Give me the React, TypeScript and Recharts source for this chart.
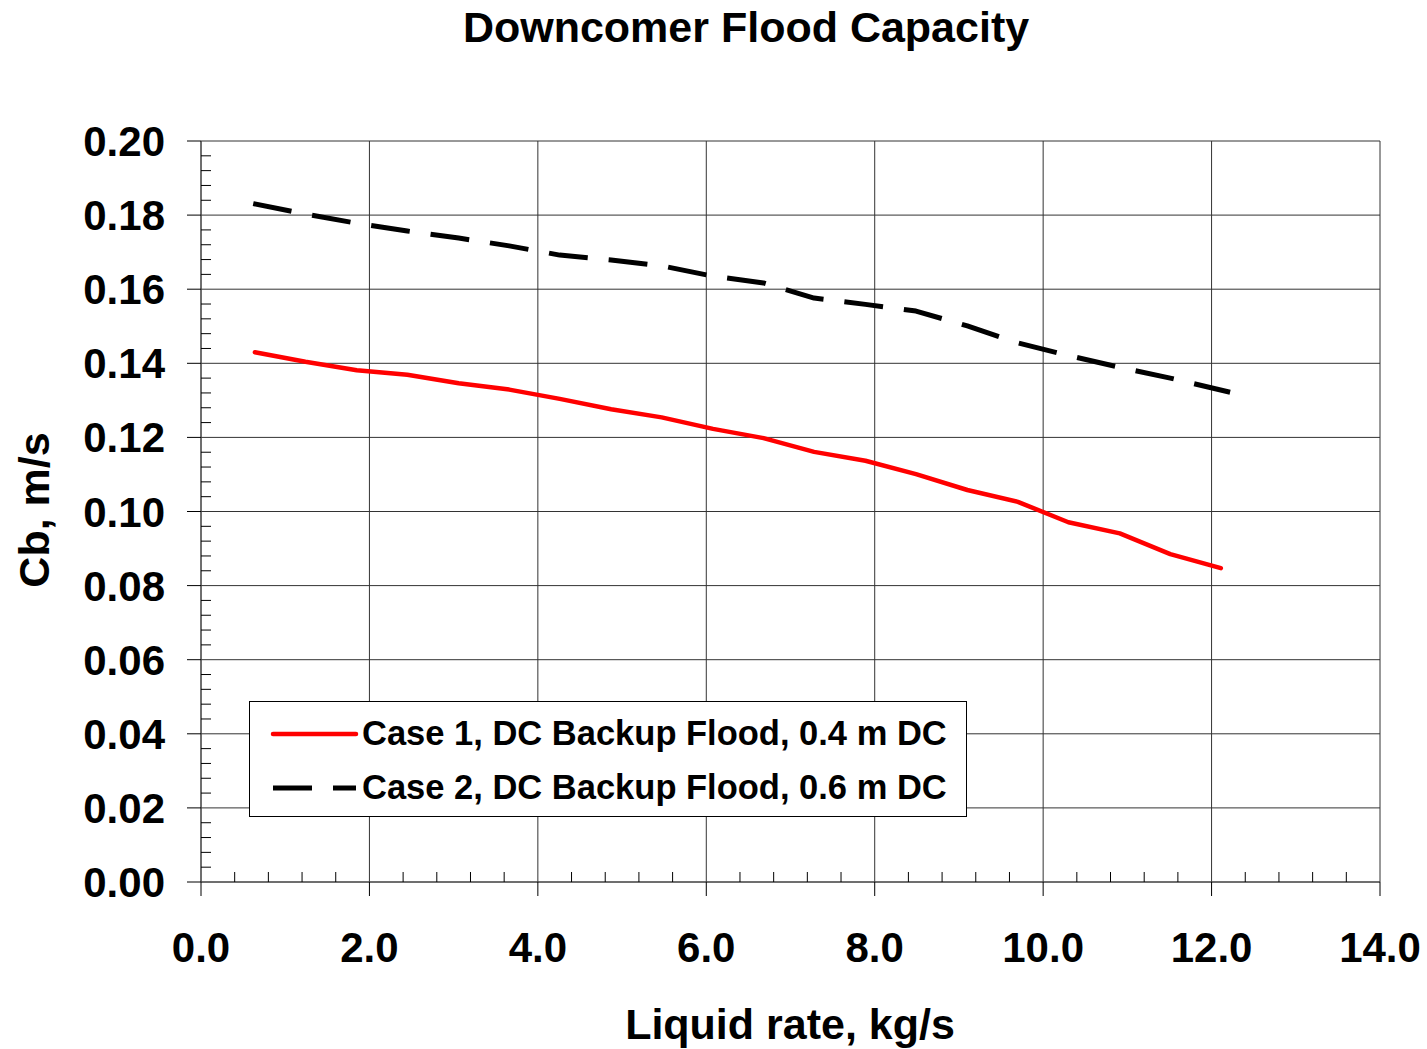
import React from 'react';
import { LineChart, Line, XAxis, YAxis, CartesianGrid, Legend } from 'recharts';

// ---- data ----
const case1X = [0.64, 1.24, 1.85, 2.45, 3.06, 3.66, 4.26, 4.87, 5.47, 6.08, 6.68, 7.28, 7.89, 8.49, 9.1, 9.7, 10.3, 10.91, 11.51, 12.11];
const case1Y = [0.143, 0.1404, 0.1381, 0.1369, 0.1346, 0.1329, 0.1304, 0.1276, 0.1254, 0.1223, 0.1198, 0.1161, 0.1137, 0.1101, 0.1058, 0.1026, 0.0971, 0.0941, 0.0885, 0.0847];
const case2X = [0.62, 1.24, 1.85, 2.45, 3.06, 3.66, 4.26, 4.87, 5.47, 6.08, 6.68, 7.28, 7.89, 8.49, 9.1, 9.7, 10.3, 10.91, 11.51, 12.22];
const case2Y = [0.1831, 0.1803, 0.1778, 0.1757, 0.1738, 0.1717, 0.1692, 0.1679, 0.1663, 0.1635, 0.1617, 0.1576, 0.1559, 0.1541, 0.1501, 0.1455, 0.1421, 0.1389, 0.136, 0.1322];

const seriesNames = ['Case 1, DC Backup Flood, 0.4 m DC', 'Case 2, DC Backup Flood, 0.6 m DC'];

const xMajorTicks = [0, 2, 4, 6, 8, 10, 12, 14];
const yMajorTicks = [0, 0.02, 0.04, 0.06, 0.08, 0.1, 0.12, 0.14, 0.16, 0.18, 0.2];
const xMinorStep = 0.4;
const yMinorStep = 0.004;

const title = 'Downcomer Flood Capacity';
const xLabel = 'Liquid rate, kg/s';
const yLabel = 'Cb, m/s';

// ---- derived ----
const case1Data = case1X.map((x, i) => ({ x, y: case1Y[i] }));
const case2Data = case2X.map((x, i) => ({ x, y: case2Y[i] }));

const xAllTicks: number[] = [];
for (let i = 0; i <= Math.round(14 / xMinorStep); i++) xAllTicks.push(Math.round(i * xMinorStep * 1000) / 1000);
const yAllTicks: number[] = [];
for (let i = 0; i <= Math.round(0.2 / yMinorStep); i++) yAllTicks.push(Math.round(i * yMinorStep * 100000) / 100000);

const isMajor = (v: number, majors: number[]) => majors.some((m) => Math.abs(m - v) < 1e-9);

const FONT = '"Liberation Sans", Arial, sans-serif';
const AXIS_COLOR = '#444';

const XTick = (props: any) => {
  const { x, y, payload } = props;
  const v = payload.value as number;
  if (isMajor(v, xMajorTicks)) {
    return (
      <g>
        <line x1={x} x2={x} y1={y} y2={y + 14} stroke="#000" strokeWidth={1} />
        <text x={x} y={y + 80} textAnchor="middle" fontSize={42} fontWeight={700} fontFamily={FONT} fill="#000">
          {v.toFixed(1)}
        </text>
      </g>
    );
  }
  return <line x1={x} x2={x} y1={y} y2={y - 10} stroke="#000" strokeWidth={1} />;
};

const YTick = (props: any) => {
  const { x, y, payload } = props;
  const v = payload.value as number;
  if (isMajor(v, yMajorTicks)) {
    return (
      <g>
        <line x1={x - 14} x2={x} y1={y} y2={y} stroke="#000" strokeWidth={1} />
        <text x={x - 36} y={y + 15} textAnchor="end" fontSize={42} fontWeight={700} fontFamily={FONT} fill="#000">
          {v.toFixed(2)}
        </text>
      </g>
    );
  }
  return <line x1={x} x2={x + 10} y1={y} y2={y} stroke="#000" strokeWidth={1} />;
};

const legendStyles = [
  { color: '#ff0000', dash: undefined as string | undefined, width: 4.5 },
  { color: '#000000', dash: '39 21', width: 5 },
];

const renderLegend = () => (
  <div
    style={{
      width: 718,
      height: 116,
      boxSizing: 'border-box',
      border: '1px solid #000',
      background: '#fff',
      position: 'relative',
      fontFamily: FONT,
    }}
  >
    {seriesNames.map((name, i) => (
      <div
        key={name}
        style={{
          position: 'absolute',
          left: 0,
          top: i === 0 ? 12 : 66,
          height: 38,
          display: 'flex',
          alignItems: 'center',
          whiteSpace: 'nowrap',
        }}
      >
        <svg width={112} height={38} style={{ display: 'block' }}>
          <line
            x1={23}
            x2={106}
            y1={20}
            y2={20}
            stroke={legendStyles[i].color}
            strokeWidth={legendStyles[i].width}
            strokeDasharray={legendStyles[i].dash}
            strokeLinecap={legendStyles[i].dash ? 'butt' : 'round'}
          />
        </svg>
        <span style={{ fontSize: 34.5, fontWeight: 700, color: '#000', lineHeight: '38px' }}>{name}</span>
      </div>
    ))}
  </div>
);

export default function App() {
  return (
    <div style={{ position: 'absolute', left: 0, top: 0, width: 1427, height: 1049, background: '#fff', fontFamily: FONT }}>
      <div
        style={{
          position: 'absolute',
          left: 446,
          top: 5,
          width: 600,
          textAlign: 'center',
          fontSize: 43,
          lineHeight: '44px',
          fontWeight: 700,
          color: '#000',
          zIndex: 2,
        }}
      >
        {title}
      </div>
      <div
        style={{
          position: 'absolute',
          left: 490,
          top: 1002,
          width: 600,
          textAlign: 'center',
          fontSize: 43,
          lineHeight: '44px',
          fontWeight: 700,
          color: '#000',
          zIndex: 2,
        }}
      >
        {xLabel}
      </div>
      <div
        style={{
          position: 'absolute',
          left: 34 - 150,
          top: 510 - 22,
          width: 300,
          height: 44,
          textAlign: 'center',
          fontSize: 43,
          lineHeight: '44px',
          fontWeight: 700,
          color: '#000',
          transform: 'rotate(-90deg)',
          zIndex: 2,
        }}
      >
        {yLabel}
      </div>
      <LineChart width={1427} height={1049} margin={{ top: 141, right: 47, bottom: 0, left: 0 }}>
        <CartesianGrid
          stroke="#333"
          strokeWidth={1}
          horizontalValues={yMajorTicks}
          verticalValues={xMajorTicks}
        />
        <XAxis
          type="number"
          dataKey="x"
          domain={[0, 14]}
          ticks={xAllTicks}
          interval={0}
          height={167}
          tickSize={0}
          tickMargin={0}
          tickLine={false}
          tick={<XTick />}
          axisLine={{ stroke: AXIS_COLOR, strokeWidth: 1 }}
          allowDataOverflow
        />
        <YAxis
          type="number"
          domain={[0, 0.2]}
          ticks={yAllTicks}
          interval={0}
          width={201}
          tickSize={0}
          tickMargin={0}
          tickLine={false}
          tick={<YTick />}
          axisLine={{ stroke: AXIS_COLOR, strokeWidth: 1 }}
          allowDataOverflow
        />
        <Legend
          layout="horizontal"
          verticalAlign="middle"
          align="center"
          content={renderLegend}
          wrapperStyle={{ left: 249, top: 701, width: 718, height: 116 }}
        />
        <Line
          data={case1Data}
          dataKey="y"
          name={seriesNames[0]}
          type="linear"
          stroke="#ff0000"
          strokeWidth={4.5}
          strokeLinecap="round"
          strokeLinejoin="round"
          dot={false}
          activeDot={false}
          isAnimationActive={false}
        />
        <Line
          data={case2Data}
          dataKey="y"
          name={seriesNames[1]}
          type="linear"
          stroke="#000000"
          strokeWidth={5}
          strokeDasharray="39 21"
          strokeLinejoin="round"
          dot={false}
          activeDot={false}
          isAnimationActive={false}
        />
      </LineChart>
    </div>
  );
}
